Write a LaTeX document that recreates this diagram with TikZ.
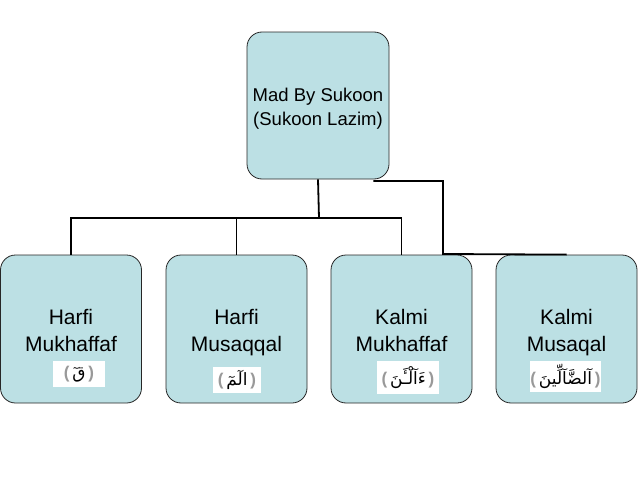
\documentclass[tikz,border=0pt]{standalone}
\usepackage{fontspec}
\setmainfont{Liberation Sans}
\newfontfamily\arabicfont[Script=Arabic]{DejaVu Sans}
\TeXXeTstate=1
\definecolor{boxblue}{RGB}{188,224,228}
\newcommand{\ayah}[1]{{\textcolor{black!40}{\textbf{(}}\,{\arabicfont\beginR #1\endR}\,\textcolor{black!40}{\textbf{)}}}}
\newcommand{\toprule}{\rule{0pt}{27pt}}

\begin{document}
\begin{tikzpicture}[x=1pt,y=-1pt]
      \useasboundingbox (0,0) rectangle (638,479);

      \begin{scope}[every node/.style={draw=black!85,fill=boxblue,rounded corners=15pt,line width=.8pt,align=center,inner sep=0pt}]
        \node[minimum width=142pt,minimum height=147pt,font=\fontsize{18.5}{24}\selectfont] (0) at (318,105.5) {\rule{0pt}{20pt}Mad By Sukoon\\(Sukoon Lazim)};
        \begin{scope}[every node/.append style={minimum width=141pt,minimum height=148pt,font=\fontsize{21}{27}\selectfont}]
          \node (1) at (71,329)    {\toprule Harfi\\Mukhaffaf\strut};
          \node (2) at (236.5,329) {\toprule Harfi\\Musaqqal\strut};
          \node (3) at (401.5,329) {\toprule Kalmi\\Mukhaffaf\strut};
          \node (4) at (566.5,329) {\toprule Kalmi\\Musaqal\strut};
        \end{scope}
      \end{scope}

      \begin{scope}[every node/.style={fill=white,inner sep=0pt,font=\fontsize{17}{19}\selectfont}]
        \node[minimum width=52pt,minimum height=26pt] (a1) at (79,374)      {\ayah{قٓ}};
        \node[minimum width=48pt,minimum height=26pt] (a2) at (237,380)     {\ayah{الٓمٓ}};
        \node[minimum width=62pt,minimum height=33pt] (a3) at (408,377.5)   {\ayah{ءَآلْـَٔنَ}};
        \node[minimum width=69pt,minimum height=31pt] (a4) at (565.5,376.5) {\ayah{آلضَّآلِّينَ}};
      \end{scope}

      \begin{scope}[line width=1.8pt]
        \coordinate (bus) at (319,218);
        \coordinate (elbow) at (443,254);
        \draw (0.south) -- (bus);
        \draw (bus) -| (1.north);
        \draw (bus) -| (2.north);
        \draw (bus) -| (3.north);
        \draw ([xshift=-16pt,yshift=-1.5pt]0.south east) -| (elbow) -- (4.north);
      \end{scope}

\end{tikzpicture}
\end{document}
